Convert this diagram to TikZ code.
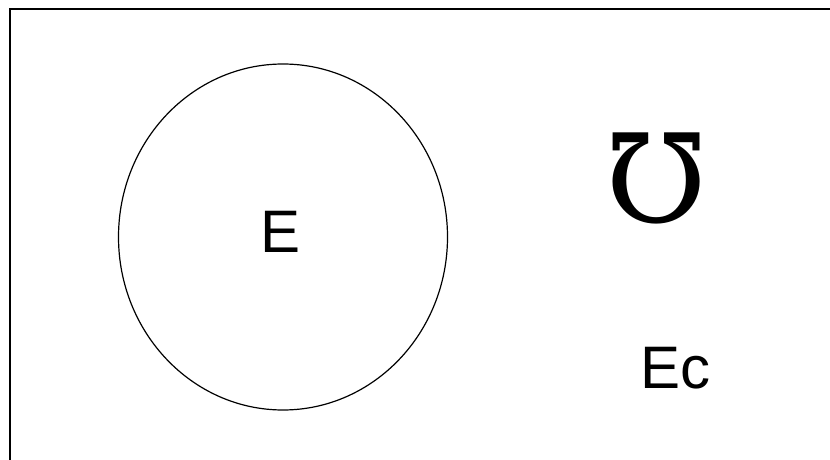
\documentclass[tikz,border=0pt]{standalone}
\usepackage{fontspec}
\usetikzlibrary{shapes.geometric}
\setmainfont{Liberation Sans}
\newfontfamily\symfont{DejaVu Serif}
\begin{document}
\begin{tikzpicture}[x=1pt,y=-1pt,
  lbl/.style={inner sep=0pt,font=\fontsize{60}{60}\selectfont},
  frame/.style={line width=2pt}]
\useasboundingbox (0,0) rectangle (830,460);
\fill[white] (0,0) rectangle (830,460);
\coordinate (fbl) at (9.5,460);
\coordinate (ftl) at (9.5,9.5);
\coordinate (ftr) at (830,9.5);
\draw[frame] (fbl) -- (ftl) -- (ftr);
\node[draw,ellipse,minimum width=329pt,minimum height=346pt,inner sep=0pt,line width=1.2pt] (circ) at (283,237) {};
\node[lbl] (e) at (281,231.5) {E};
\node[lbl] (ec) at (675.5,368.5) {Ec};
\node[inner sep=0pt,font=\symfont\fontsize{123}{123}\selectfont] (mho) at (656.5,178) {℧};
\end{tikzpicture}
\end{document}
